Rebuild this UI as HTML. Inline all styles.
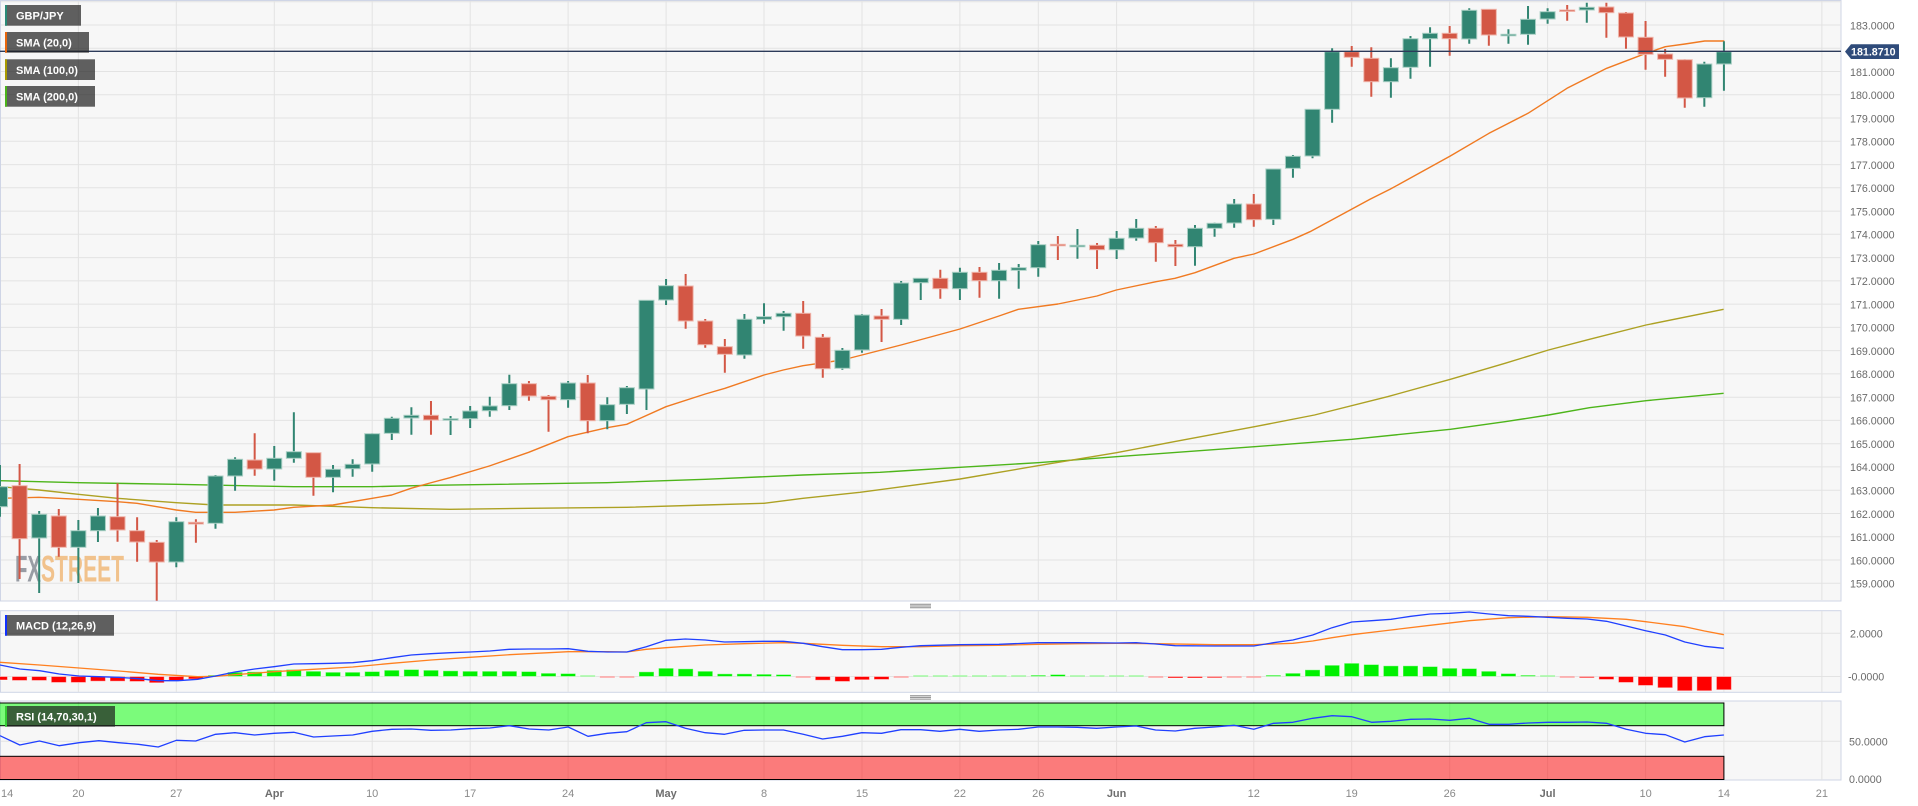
<!DOCTYPE html>
<html>
<head>
<meta charset="utf-8">
<style>
html,body{margin:0;padding:0;background:#ffffff;}
svg{display:block;font-family:"Liberation Sans",Arial,sans-serif;}
</style>
</head>
<body>
<svg width="1918" height="806" viewBox="0 0 1918 806" xmlns="http://www.w3.org/2000/svg">
<rect x="0" y="0" width="1918" height="806" fill="#ffffff"/>

<!-- ================= MAIN PANEL ================= -->
<rect x="0.5" y="0.5" width="1340.5" height="600" fill="#f7f7f7" stroke="none"/>
<rect x="0.5" y="0.5" width="1840.5" height="600.5" fill="#f7f7f7" stroke="#cfd5e6" stroke-width="1"/>
<g stroke="#e3e3e3" stroke-width="1" fill="none">
<path d="M1 1.7H1841M1 25H1841M1 48.3H1841M1 71.5H1841M1 94.8H1841M1 118H1841M1 141.3H1841M1 164.6H1841M1 187.8H1841M1 211.1H1841M1 234.3H1841M1 257.6H1841M1 280.9H1841M1 304.1H1841M1 327.4H1841M1 350.6H1841M1 373.9H1841M1 397.2H1841M1 420.4H1841M1 443.7H1841M1 466.9H1841M1 490.2H1841M1 513.5H1841M1 536.7H1841M1 560H1841M1 583.2H1841"/>
<path d="M78.4 1V600M176.3 1V600M274.3 1V600M372.2 1V600M470.2 1V600M568.1 1V600M666.1 1V600M764 1V600M862 1V600M959.9 1V600M1038.3 1V600M1116.6 1V600M1253.8 1V600M1351.7 1V600M1449.7 1V600M1547.6 1V600M1645.6 1V600M1723.9 1V600M1821.9 1V600"/>
</g>

<!-- watermark -->
<text x="15" y="581.5" font-size="37" font-weight="bold" fill="#989ca4" textLength="26" lengthAdjust="spacingAndGlyphs" font-family="'Liberation Sans Narrow','Liberation Sans',sans-serif">FX</text>
<text x="41" y="581.5" font-size="37" font-weight="bold" fill="#f1c28c" textLength="83" lengthAdjust="spacingAndGlyphs" font-family="'Liberation Sans Narrow','Liberation Sans',sans-serif">STREET</text>

<!-- SMAs -->
<g fill="none" stroke-width="1.4" stroke-linejoin="round">
<polyline stroke="#4db51a" points="0,480.7 78.3,482.7 176.3,484.3 293.7,486.7 372.3,486.7 430,485.3 607,482.7 705.3,479.3 803,475 880,472.3 960,467.3 1038,462.7 1116.5,456.7 1254.5,446.7 1352,439.3 1450.4,429.3 1505,421.7 1548.5,415 1589.5,407.7 1646,400.7 1723.6,393.3"/>
<polyline stroke="#ada123" points="0,486.7 39,490 78.3,494.3 117.3,498.3 176.3,502.7 215.3,505 293.7,505 372.3,507.7 450,509.3 528.7,508.3 626.7,507.3 705.3,505 764,503.3 803,498.3 860,492.3 960,479 1038,465.7 1116.5,452.7 1174,441.7 1254.5,426.7 1314.5,415 1387.5,396.7 1450.4,379.3 1505,363.3 1548.5,350 1589.5,339.3 1646,325 1723.6,309.3"/>
<polyline stroke="#f07a22" points="0,498.3 39,497.3 78.3,499.3 117.3,501.7 137,503.3 176.3,510 195.7,512.3 235,512.3 274,510 293.7,507.3 333,505 372.3,498.3 391.7,495 411,488.3 430,483 450,477.7 489.3,466 528.7,452.3 568,436.7 607,427.7 626.7,424.3 666,406.7 705.3,394 725,388.3 764,375 783.3,370 803,365.7 842.3,360 860,355.5 901,345 960,329 999,316 1018.3,309.3 1058,304 1097,296 1116.3,290 1156,281.7 1175,278.3 1195,272.7 1234,258.3 1254,254 1293,239.3 1310,231.7 1370,199.3 1390,189.3 1450.3,156 1489,133.3 1528,113.3 1567,88.3 1606.7,68.3 1646,53.3 1665.3,46.7 1685,44 1704.7,41 1724.3,41"/>
</g>

<!-- green candles -->
<path fill="none" stroke="#318572" stroke-width="2" d="M0 465V516.7M39.18 511V593M78.36 520V583M97.95 508V542M176.31 517.3V567.3M215.49 475V528.7M235.08 457.3V490.7M274.26 446V480.7M293.85 412.3V462.7M333.03 465V492.3M352.62 459.3V476.7M372.21 433.3V471.7M391.8 416.7V440M411.39 407.3V434.7M450.57 416V435M470.16 406V428M489.75 396.7V416.7M509.34 374.7V410M568.11 381V407.7M607.29 397.3V429.3M626.88 386V414M646.47 300V410M666.06 279V305M744.42 314V358.7M764.01 303.3V323.7M783.6 311V330.7M842.37 348V369.7M861.96 314V352.7M901.14 281V325M920.73 278V300M959.91 267.7V300M999.09 263V298.7M1018.68 264V288.7M1038.27 241V276.7M1077.45 229V258.7M1116.63 231V259M1136.22 219V240.7M1194.99 225V265.7M1214.58 222.7V236.7M1234.17 199V227.7M1273.35 169V225M1292.94 155V177.7M1312.53 109V158.3M1332.12 48.3V122.7M1390.89 58.3V97.7M1410.48 36V78.7M1430.07 27.3V66.7M1469.25 8.3V43.7M1508.43 29.3V43.7M1528.02 6V44.7M1547.61 8.3V23.7M1586.79 2.7V22.7M1704.33 61.7V106.7M1723.92 41.3V90.7"/>
<g fill="#318572" stroke="#a9cfc4" stroke-width="1">
<rect x="-7.5" y="486.7" width="15" height="20"/>
<rect x="31.68" y="514.3" width="15" height="23.7"/>
<rect x="70.86" y="530.7" width="15" height="16.6"/>
<rect x="90.45" y="516" width="15" height="14.7"/>
<rect x="168.81" y="521.7" width="15" height="40.3"/>
<rect x="207.99" y="476" width="15" height="47.3"/>
<rect x="227.58" y="459.3" width="15" height="16.7"/>
<rect x="266.76" y="458.3" width="15" height="10.7"/>
<rect x="286.35" y="451.7" width="15" height="6.6"/>
<rect x="325.53" y="469.3" width="15" height="8"/>
<rect x="345.12" y="464.3" width="15" height="4.4"/>
<rect x="364.71" y="433.7" width="15" height="30.3"/>
<rect x="384.3" y="418.3" width="15" height="15"/>
<rect x="403.89" y="415.3" width="15" height="2.7"/>
<rect x="443.07" y="418.7" width="15" height="1.5"/>
<rect x="462.66" y="411" width="15" height="7.7"/>
<rect x="482.25" y="406" width="15" height="4.7"/>
<rect x="501.84" y="383.7" width="15" height="22"/>
<rect x="560.61" y="383" width="15" height="16.7"/>
<rect x="599.79" y="404.7" width="15" height="16"/>
<rect x="619.38" y="387.7" width="15" height="16.6"/>
<rect x="638.97" y="300.3" width="15" height="88.7"/>
<rect x="658.56" y="285.7" width="15" height="14.3"/>
<rect x="736.92" y="319.3" width="15" height="35.7"/>
<rect x="756.51" y="316.7" width="15" height="2.6"/>
<rect x="776.1" y="313.3" width="15" height="3.4"/>
<rect x="834.87" y="350.3" width="15" height="18"/>
<rect x="854.46" y="315" width="15" height="35"/>
<rect x="893.64" y="283" width="15" height="36.3"/>
<rect x="913.23" y="278.3" width="15" height="4.4"/>
<rect x="952.41" y="272.3" width="15" height="16.4"/>
<rect x="991.59" y="270.3" width="15" height="10.4"/>
<rect x="1011.18" y="267.7" width="15" height="2.6"/>
<rect x="1030.77" y="244.7" width="15" height="23"/>
<rect x="1069.95" y="245.3" width="15" height="1.5"/>
<rect x="1109.13" y="238.3" width="15" height="11.4"/>
<rect x="1128.72" y="228.3" width="15" height="9.7"/>
<rect x="1187.49" y="228.3" width="15" height="18.4"/>
<rect x="1207.08" y="223.3" width="15" height="5"/>
<rect x="1226.67" y="204" width="15" height="19"/>
<rect x="1265.85" y="169" width="15" height="50.3"/>
<rect x="1285.44" y="156.3" width="15" height="12"/>
<rect x="1305.03" y="109.3" width="15" height="46.7"/>
<rect x="1324.62" y="51.7" width="15" height="57.6"/>
<rect x="1383.39" y="67.7" width="15" height="14"/>
<rect x="1402.98" y="38.7" width="15" height="28.6"/>
<rect x="1422.57" y="33.3" width="15" height="5.4"/>
<rect x="1461.75" y="10.3" width="15" height="28.7"/>
<rect x="1500.93" y="34.3" width="15" height="1.5"/>
<rect x="1520.52" y="19.3" width="15" height="15"/>
<rect x="1540.11" y="11.7" width="15" height="7.3"/>
<rect x="1579.29" y="7.3" width="15" height="2.7"/>
<rect x="1696.83" y="64" width="15" height="33.7"/>
<rect x="1716.42" y="51.7" width="15" height="12.3"/>
</g>

<!-- red candles -->
<path fill="none" stroke="#d35745" stroke-width="2" d="M19.59 464V579M58.77 509V556.7M117.54 483.3V541.7M137.13 517.3V561.7M156.72 540V600.7M195.9 519.3V542.7M254.67 433.3V475.7M313.44 452.7V495.7M430.98 401V434.7M528.93 381V400.7M548.52 395V431.7M587.7 375V433.3M685.65 274V328.7M705.24 319V347.7M724.83 339V372.7M803.19 301V348.7M822.78 334V377.7M881.55 309V342M940.32 269.7V298.7M979.5 267V297.7M1057.86 236V260M1097.04 243V269M1155.81 226V261.7M1175.4 240V266M1253.76 194V226.7M1351.71 46V66.7M1371.3 47.3V96.7M1449.66 26V55.7M1488.84 9V45.7M1567.2 5V20.7M1606.38 2.7V37.7M1625.97 12V48.7M1645.56 21V69.7M1665.15 49V76.7M1684.74 59.3V107.7"/>
<g fill="#d35745" stroke="#efb5ab" stroke-width="1">
<rect x="12.09" y="485.7" width="15" height="53"/>
<rect x="51.27" y="516" width="15" height="31.3"/>
<rect x="110.04" y="516.7" width="15" height="13.3"/>
<rect x="129.63" y="530.7" width="15" height="11.3"/>
<rect x="149.22" y="542.3" width="15" height="19.7"/>
<rect x="188.4" y="522.3" width="15" height="1.7"/>
<rect x="247.17" y="460" width="15" height="9"/>
<rect x="305.94" y="452.7" width="15" height="24.6"/>
<rect x="423.48" y="415.3" width="15" height="4.7"/>
<rect x="521.43" y="383.7" width="15" height="12.3"/>
<rect x="541.02" y="396.3" width="15" height="3.4"/>
<rect x="580.2" y="383" width="15" height="37.7"/>
<rect x="678.15" y="286" width="15" height="35"/>
<rect x="697.74" y="321" width="15" height="23.7"/>
<rect x="717.33" y="346.7" width="15" height="7.6"/>
<rect x="795.69" y="313.3" width="15" height="22.7"/>
<rect x="815.28" y="337.3" width="15" height="31.4"/>
<rect x="874.05" y="316" width="15" height="3.3"/>
<rect x="932.82" y="278.3" width="15" height="10.4"/>
<rect x="972" y="272.3" width="15" height="8.4"/>
<rect x="1050.36" y="244.3" width="15" height="1.5"/>
<rect x="1089.54" y="245.3" width="15" height="4.4"/>
<rect x="1148.31" y="228.3" width="15" height="14.4"/>
<rect x="1167.9" y="244.3" width="15" height="2.4"/>
<rect x="1246.26" y="204" width="15" height="15.7"/>
<rect x="1344.21" y="51.7" width="15" height="5.6"/>
<rect x="1363.8" y="58.3" width="15" height="23.4"/>
<rect x="1442.16" y="33.3" width="15" height="5.4"/>
<rect x="1481.34" y="9.3" width="15" height="25.7"/>
<rect x="1559.7" y="10" width="15" height="1.5"/>
<rect x="1598.88" y="7" width="15" height="5.7"/>
<rect x="1618.47" y="13" width="15" height="24"/>
<rect x="1638.06" y="37.3" width="15" height="17"/>
<rect x="1657.65" y="54" width="15" height="5.3"/>
<rect x="1677.24" y="59.7" width="15" height="38.3"/>
</g>

<!-- current price line -->
<line x1="0" y1="51.3" x2="1841" y2="51.3" stroke="#2c3b5a" stroke-width="1.3"/>

<!-- main y-axis labels -->
<g font-size="10.7" fill="#6b6b6b">
<text x="1850" y="29.3">183.0000</text>
<text x="1850" y="52.6">182.0000</text>
<text x="1850" y="75.8">181.0000</text>
<text x="1850" y="99.1">180.0000</text>
<text x="1850" y="122.3">179.0000</text>
<text x="1850" y="145.6">178.0000</text>
<text x="1850" y="168.9">177.0000</text>
<text x="1850" y="192.1">176.0000</text>
<text x="1850" y="215.4">175.0000</text>
<text x="1850" y="238.6">174.0000</text>
<text x="1850" y="261.9">173.0000</text>
<text x="1850" y="285.2">172.0000</text>
<text x="1850" y="308.4">171.0000</text>
<text x="1850" y="331.7">170.0000</text>
<text x="1850" y="354.9">169.0000</text>
<text x="1850" y="378.2">168.0000</text>
<text x="1850" y="401.5">167.0000</text>
<text x="1850" y="424.7">166.0000</text>
<text x="1850" y="448">165.0000</text>
<text x="1850" y="471.2">164.0000</text>
<text x="1850" y="494.5">163.0000</text>
<text x="1850" y="517.8">162.0000</text>
<text x="1850" y="541">161.0000</text>
<text x="1850" y="564.3">160.0000</text>
<text x="1850" y="587.5">159.0000</text>
</g>
<!-- price tag -->
<polygon points="1845,51.6 1851,44.3 1899,44.3 1899,59 1851,59" fill="#2f4b7a"/>
<text x="1851" y="55.6" font-size="10.7" font-weight="bold" fill="#ffffff">181.8710</text>

<!-- legend boxes main -->
<g font-size="11" font-weight="bold" fill="#ffffff">
<rect x="5" y="5" width="76" height="20.7" fill="rgba(30,30,30,0.7)"/>
<rect x="5" y="5" width="2" height="20.7" fill="#2a8a77"/>
<text x="16" y="19.6">GBP/JPY</text>
<rect x="5" y="32" width="84" height="20.7" fill="rgba(30,30,30,0.7)"/>
<rect x="5" y="32" width="2" height="20.7" fill="#e8650a"/>
<text x="16" y="46.6">SMA (20,0)</text>
<rect x="5" y="59.3" width="90" height="20.7" fill="rgba(30,30,30,0.7)"/>
<rect x="5" y="59.3" width="2" height="20.7" fill="#a89a00"/>
<text x="16" y="73.9">SMA (100,0)</text>
<rect x="5" y="86" width="90" height="20.7" fill="rgba(30,30,30,0.7)"/>
<rect x="5" y="86" width="2" height="20.7" fill="#4bb31a"/>
<text x="16" y="100.6">SMA (200,0)</text>
</g>

<!-- grips -->
<g stroke="#8a8a8a" stroke-width="1">
<path d="M910 604.3H931M910 606H931M910 607.7H931"/>
<path d="M910 695.7H931M910 697.4H931M910 699.1H931"/>
</g>

<!-- ================= MACD PANEL ================= -->
<rect x="0.5" y="610.7" width="1840.5" height="81.6" fill="#f7f7f7" stroke="#cfd5e6" stroke-width="1"/>
<g stroke="#e3e3e3" stroke-width="1" fill="none">
<path d="M1 633.3H1841M1 676.5H1841"/>
<path d="M78.4 611V692M176.3 611V692M274.3 611V692M372.2 611V692M470.2 611V692M568.1 611V692M666.1 611V692M764 611V692M862 611V692M959.9 611V692M1038.3 611V692M1116.6 611V692M1253.8 611V692M1351.7 611V692M1449.7 611V692M1547.6 611V692M1645.6 611V692M1723.9 611V692M1821.9 611V692"/>
</g>
<!-- histogram green -->
<g fill="#00f000" stroke="rgba(255,255,255,0.45)" stroke-width="1">
<rect x="207.99" y="675.2" width="15" height="1.3"/>
<rect x="227.58" y="672.2" width="15" height="4.3"/>
<rect x="247.17" y="671.8" width="15" height="4.7"/>
<rect x="266.76" y="670.2" width="15" height="6.3"/>
<rect x="286.35" y="669.5" width="15" height="7"/>
<rect x="305.94" y="671.2" width="15" height="5.3"/>
<rect x="325.53" y="672.2" width="15" height="4.3"/>
<rect x="345.12" y="672.2" width="15" height="4.3"/>
<rect x="364.71" y="671.5" width="15" height="5"/>
<rect x="384.3" y="670.2" width="15" height="6.3"/>
<rect x="403.89" y="669.5" width="15" height="7"/>
<rect x="423.48" y="670.2" width="15" height="6.3"/>
<rect x="443.07" y="670.8" width="15" height="5.7"/>
<rect x="462.66" y="671.2" width="15" height="5.3"/>
<rect x="482.25" y="671.2" width="15" height="5.3"/>
<rect x="501.84" y="671.2" width="15" height="5.3"/>
<rect x="521.43" y="671.5" width="15" height="5"/>
<rect x="541.02" y="673.2" width="15" height="3.3"/>
<rect x="560.61" y="673.5" width="15" height="3"/>
<rect x="580.2" y="675.5" width="15" height="1"/>
<rect x="638.97" y="671.8" width="15" height="4.7"/>
<rect x="658.56" y="668.2" width="15" height="8.3"/>
<rect x="678.15" y="668.8" width="15" height="7.7"/>
<rect x="697.74" y="671.2" width="15" height="5.3"/>
<rect x="717.33" y="673.8" width="15" height="2.7"/>
<rect x="736.92" y="673.8" width="15" height="2.7"/>
<rect x="756.51" y="674.2" width="15" height="2.3"/>
<rect x="776.1" y="674.5" width="15" height="2"/>
<rect x="913.23" y="675.5" width="15" height="1"/>
<rect x="932.82" y="675.5" width="15" height="1"/>
<rect x="952.41" y="675.5" width="15" height="1"/>
<rect x="972" y="675.5" width="15" height="1"/>
<rect x="991.59" y="675.5" width="15" height="1"/>
<rect x="1011.18" y="675.5" width="15" height="1"/>
<rect x="1030.77" y="675.2" width="15" height="1.3"/>
<rect x="1050.36" y="674.5" width="15" height="2"/>
<rect x="1069.95" y="675.5" width="15" height="1"/>
<rect x="1089.54" y="675.5" width="15" height="1"/>
<rect x="1109.13" y="675.5" width="15" height="1"/>
<rect x="1128.72" y="675.5" width="15" height="1"/>
<rect x="1265.85" y="675.2" width="15" height="1.3"/>
<rect x="1285.44" y="673.2" width="15" height="3.3"/>
<rect x="1305.03" y="669.8" width="15" height="6.7"/>
<rect x="1324.62" y="665.2" width="15" height="11.3"/>
<rect x="1344.21" y="663.2" width="15" height="13.3"/>
<rect x="1363.8" y="664.5" width="15" height="12"/>
<rect x="1383.39" y="665.8" width="15" height="10.7"/>
<rect x="1402.98" y="665.8" width="15" height="10.7"/>
<rect x="1422.57" y="666.5" width="15" height="10"/>
<rect x="1442.16" y="668.2" width="15" height="8.3"/>
<rect x="1461.75" y="668.5" width="15" height="8"/>
<rect x="1481.34" y="671.2" width="15" height="5.3"/>
<rect x="1500.93" y="673.5" width="15" height="3"/>
<rect x="1520.52" y="675.2" width="15" height="1.3"/>
<rect x="1540.11" y="675.5" width="15" height="1"/>
</g>
<!-- histogram red -->
<g fill="#ff0000" stroke="rgba(255,255,255,0.45)" stroke-width="1">
<rect x="-7.5" y="676.5" width="15" height="3.5"/>
<rect x="12.09" y="676.5" width="15" height="4"/>
<rect x="31.68" y="676.5" width="15" height="4"/>
<rect x="51.27" y="676.5" width="15" height="6"/>
<rect x="70.86" y="676.5" width="15" height="6"/>
<rect x="90.45" y="676.5" width="15" height="4.7"/>
<rect x="110.04" y="676.5" width="15" height="4.7"/>
<rect x="129.63" y="676.5" width="15" height="5"/>
<rect x="149.22" y="676.5" width="15" height="6.3"/>
<rect x="168.81" y="676.5" width="15" height="4"/>
<rect x="188.4" y="676.5" width="15" height="2.5"/>
<rect x="599.79" y="676.5" width="15" height="1"/>
<rect x="619.38" y="676.5" width="15" height="1"/>
<rect x="795.69" y="676.5" width="15" height="1"/>
<rect x="815.28" y="676.5" width="15" height="3.7"/>
<rect x="834.87" y="676.5" width="15" height="5"/>
<rect x="854.46" y="676.5" width="15" height="3.3"/>
<rect x="874.05" y="676.5" width="15" height="3"/>
<rect x="893.64" y="676.5" width="15" height="1"/>
<rect x="1148.31" y="676.5" width="15" height="1"/>
<rect x="1167.9" y="676.5" width="15" height="1.5"/>
<rect x="1187.49" y="676.5" width="15" height="1.5"/>
<rect x="1207.08" y="676.5" width="15" height="1.3"/>
<rect x="1226.67" y="676.5" width="15" height="1"/>
<rect x="1246.26" y="676.5" width="15" height="1"/>
<rect x="1559.7" y="676.5" width="15" height="1"/>
<rect x="1579.29" y="676.5" width="15" height="1.3"/>
<rect x="1598.88" y="676.5" width="15" height="3"/>
<rect x="1618.47" y="676.5" width="15" height="6"/>
<rect x="1638.06" y="676.5" width="15" height="9"/>
<rect x="1657.65" y="676.5" width="15" height="11.3"/>
<rect x="1677.24" y="676.5" width="15" height="14.3"/>
<rect x="1696.83" y="676.5" width="15" height="14.3"/>
<rect x="1716.42" y="676.5" width="15" height="13.3"/>
</g>
<!-- MACD lines -->
<g fill="none" stroke-width="1.3" stroke-linejoin="round">
<polyline stroke="#ff8020" points="0,662.3 39.5,665 79.1,668 118.6,671 158.2,674.3 197.7,676.7 215.5,676.3 234.9,674.7 274,671.7 313.2,669.3 352.7,667 391.9,663.3 431,660 470.1,657.3 509.3,654.7 548.8,652.7 568.2,651.7 607.4,651.7 626.9,652 646.3,649.3 666,647.7 705.2,645 744.3,643.7 783.5,642.7 803.2,643.3 822.6,644.3 842.4,645.3 881.5,646.7 920.7,646.7 959.8,645.7 999,645.3 1038.1,644.3 1077.3,643.7 1116.4,643.3 1155.6,643.7 1194.7,644.3 1214.5,644.7 1253.8,644.7 1292.9,643.3 1312.7,641 1332.1,637.7 1351.8,634.7 1391,630 1430.1,625.3 1469.3,620.7 1508.4,617.7 1548,616.7 1587.1,617.3 1626.2,619.3 1645.6,621.7 1684.8,626.7 1704.5,631 1723.9,634.7"/>
<polyline stroke="#2040ff" points="0,665 19.8,669 39.5,670.7 59.3,674 79.1,676 98.9,676.7 118.6,677.3 138.4,678.7 158.2,680.7 177.9,680.7 197.7,679.3 215.5,676 234.9,672 254.6,669 274,666.7 293.8,664 313.6,663.7 332.9,663.3 352.7,662.7 372.1,660.7 391.9,657.7 411.2,655 431,653.7 450.8,652.7 470.1,652 489.9,651 509.3,649.3 529.1,649 548.8,649 568.2,648.7 588,651.3 607.4,652 626.9,652 646.3,646.7 666,640.3 685.4,639 705.2,640 724.6,642 744.3,641.7 763.7,641.3 783.5,641.3 803.2,643.3 822.6,646.7 842.4,649.7 861.8,649.7 881.5,649.3 900.9,647.3 920.7,645.7 959.8,644.7 999,644.3 1038.1,642.7 1077.3,642.7 1116.4,643 1136.2,642.7 1155.6,644 1175.3,645.7 1214.5,646 1253.8,646 1273.5,642.7 1292.9,640 1312.7,635 1332.1,627.7 1351.8,622 1371.6,620.7 1391,619.3 1410.8,616.3 1430.1,614 1449.9,613.3 1469.3,612 1489,614 1508.4,615.7 1528.2,616.3 1548,617.3 1567.3,618.3 1587.1,619 1606.5,621.3 1626.2,626 1645.6,630.7 1665.4,635 1684.8,642 1704.5,646.3 1723.9,648.3"/>
</g>
<g font-size="10.7" fill="#6b6b6b">
<text x="1850" y="637.3">2.0000</text>
<text x="1848" y="680.5">-0.0000</text>
</g>
<g font-size="11" font-weight="bold" fill="#ffffff">
<rect x="5" y="615" width="109" height="20.7" fill="rgba(30,30,30,0.7)"/>
<rect x="5" y="615" width="2" height="20.7" fill="#1030ff"/>
<text x="16" y="629.6">MACD (12,26,9)</text>
</g>

<!-- ================= RSI PANEL ================= -->
<rect x="0.5" y="701" width="1840.5" height="79" fill="#f7f7f7" stroke="#cfd5e6" stroke-width="1"/>
<g stroke="#e3e3e3" stroke-width="1" fill="none">
<path d="M1 741.3H1841"/>
<path d="M78.4 701V780M176.3 701V780M274.3 701V780M372.2 701V780M470.2 701V780M568.1 701V780M666.1 701V780M764 701V780M862 701V780M959.9 701V780M1038.3 701V780M1116.6 701V780M1253.8 701V780M1351.7 701V780M1449.7 701V780M1547.6 701V780M1645.6 701V780M1723.9 701V780M1821.9 701V780"/>
</g>
<rect x="-1" y="703" width="1724.9" height="22.7" fill="rgba(0,255,0,0.5)" stroke="#000" stroke-width="1"/>
<rect x="-1" y="756.3" width="1724.9" height="23.2" fill="rgba(255,0,0,0.5)" stroke="#000" stroke-width="1"/>
<polyline fill="none" stroke="#2040ff" stroke-width="1.3" stroke-linejoin="round" points="0,735.7 19.8,745 39.5,741 59.3,745.7 79.1,742.7 98.9,740.7 118.6,742.7 138.4,744.3 158.2,747 176.4,740.3 195.7,741 215.5,734.3 234.9,732.7 254.6,735 274,733.3 293.8,732.3 313.6,737 332.9,736 352.7,735 372.1,731.3 391.9,729.3 411.2,729 431,730.3 450.8,730 470.1,728.7 489.9,728 509.3,725.7 529.1,729 548.8,730 568.2,727 588,736.3 607.4,733.3 626.9,731.7 646.3,722.7 666,721.7 685.4,728.3 705.2,732.7 724.6,734.3 744.3,730.3 763.7,730 783.5,730 803.2,734.3 822.6,739 842.4,736.3 861.8,732.7 881.5,733.3 900.9,729.7 920.7,729.7 940,731.3 959.8,729.3 979.2,731.3 999,730 1018.4,729.3 1038.1,727 1057.5,727 1077.3,727.3 1096.6,728.3 1116.4,727 1136.2,726 1155.6,730 1175.3,731 1194.7,728.3 1214.5,727 1234,725.3 1253.8,729.3 1273.5,723.3 1292.9,722.3 1312.7,718.3 1332.1,715.7 1351.8,716.7 1371.6,722.3 1391,721.3 1410.8,719.3 1430.1,719 1449.9,720.3 1469.3,718.3 1489,724.3 1508.4,724.3 1528.2,723 1548,722.3 1567.3,722.3 1587.1,722 1606.5,723.3 1626.2,729.3 1645.6,733.3 1665.4,734.7 1684.8,742 1704.5,736.7 1723.9,735"/>
<g font-size="10.7" fill="#6b6b6b">
<text x="1849" y="745.3">50.0000</text>
<text x="1849" y="783">0.0000</text>
</g>
<g font-size="11" font-weight="bold" fill="#ffffff">
<rect x="5" y="706" width="110" height="20.7" fill="rgba(30,30,30,0.7)"/>
<rect x="5" y="706" width="2" height="20.7" fill="#33cc33"/>
<text x="16" y="720.6">RSI (14,70,30,1)</text>
</g>

<!-- ================= X AXIS LABELS ================= -->
<g font-size="11" fill="#8a8a8a" text-anchor="middle">
<text x="1" y="797" text-anchor="start">14</text>
<text x="78.4" y="797">20</text>
<text x="176.3" y="797">27</text>
<text x="274.3" y="797" font-weight="bold" fill="#6e6e6e">Apr</text>
<text x="372.2" y="797">10</text>
<text x="470.2" y="797">17</text>
<text x="568.1" y="797">24</text>
<text x="666.1" y="797" font-weight="bold" fill="#6e6e6e">May</text>
<text x="764" y="797">8</text>
<text x="862" y="797">15</text>
<text x="959.9" y="797">22</text>
<text x="1038.3" y="797">26</text>
<text x="1116.6" y="797" font-weight="bold" fill="#6e6e6e">Jun</text>
<text x="1253.8" y="797">12</text>
<text x="1351.7" y="797">19</text>
<text x="1449.7" y="797">26</text>
<text x="1547.6" y="797" font-weight="bold" fill="#6e6e6e">Jul</text>
<text x="1645.6" y="797">10</text>
<text x="1723.9" y="797">14</text>
<text x="1821.9" y="797">21</text>
</g>
</svg>
</body>
</html>
